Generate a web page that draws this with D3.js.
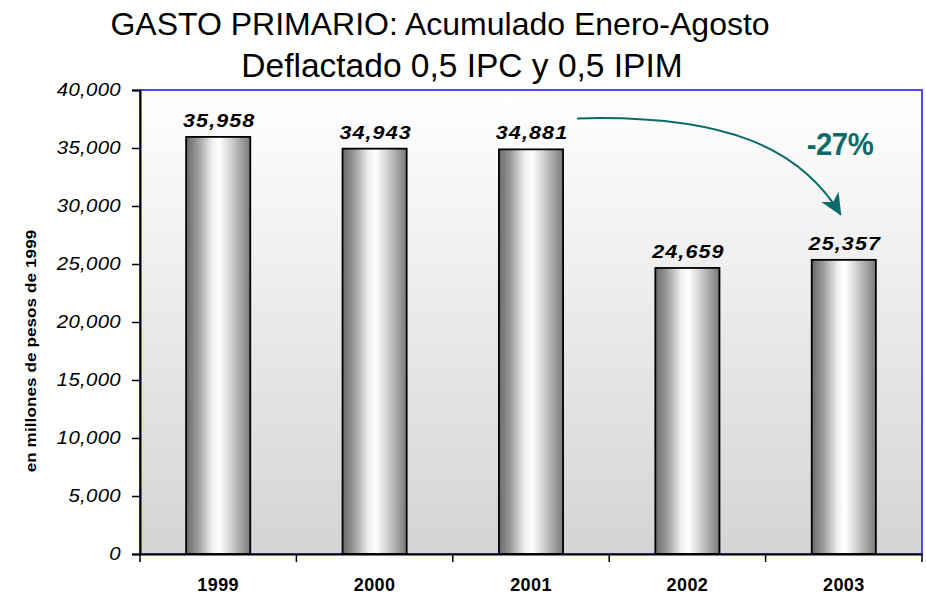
<!DOCTYPE html>
<html>
<head>
<meta charset="utf-8">
<script src="https://cdn.jsdelivr.net/npm/d3@7"></script>
<style>
  html, body { margin: 0; padding: 0; background: #ffffff; }
  svg { display: block; font-family: "Liberation Sans", Arial, sans-serif; }
</style>
</head>
<body>
<svg id="chart" width="926" height="595"></svg>
<script>
const titleLines = ["GASTO PRIMARIO: Acumulado Enero-Agosto", "Deflactado 0,5 IPC y 0,5 IPIM"];
const years = ["1999", "2000", "2001", "2002", "2003"];
const gasto = [35958, 34943, 34881, 24659, 25357];
const yTicks = [0, 5000, 10000, 15000, 20000, 25000, 30000, 35000, 40000];
const yLabel = "en millones de pesos de 1999";
const changeLabel = "-27%";

const svg = d3.select("#chart");
const W = 926, H = 595;
const m = { left: 140, right: 4, top: 90, bottom: 41 };
const pw = W - m.left - m.right, ph = H - m.top - m.bottom;

const defs = svg.append("defs");
const bg = defs.append("linearGradient").attr("id", "bg").attr("x1", 0).attr("y1", 0).attr("x2", 0).attr("y2", 1);
bg.append("stop").attr("offset", "0%").attr("stop-color", "#ffffff");
bg.append("stop").attr("offset", "100%").attr("stop-color", "#d4d4d4");

const bar = defs.append("linearGradient").attr("id", "bar").attr("x1", 0).attr("y1", 0).attr("x2", 1).attr("y2", 0);
[["0%", "#6a6a6a"], ["18%", "#9a9a9a"], ["40%", "#eeeeee"], ["52%", "#ffffff"], ["70%", "#d0d0d0"], ["88%", "#9c9c9c"], ["100%", "#7a7a7a"]]
  .forEach(([o, c]) => bar.append("stop").attr("offset", o).attr("stop-color", c));

const teal = "#0b6b6b";
const mk = defs.append("marker").attr("id", "arrow").attr("viewBox", "0 0 22 20")
  .attr("refX", 21).attr("refY", 10).attr("markerWidth", 22).attr("markerHeight", 20)
  .attr("markerUnits", "userSpaceOnUse").attr("orient", "auto");
mk.append("path").attr("d", "M0,0 L22,10 L0,20 L6,10 Z").attr("fill", teal);

const x = d3.scaleBand().domain(years).range([m.left, m.left + pw]).paddingInner(0.59).paddingOuter(0.295);
const y = d3.scaleLinear().domain([0, 40000]).range([m.top + ph, m.top]);

// plot background and border
svg.append("rect").attr("x", m.left).attr("y", m.top).attr("width", pw).attr("height", ph)
  .attr("fill", "url(#bg)").attr("stroke", "#4a4aff").attr("stroke-width", 2);

// bars
svg.append("g").selectAll("rect").data(years).join("rect")
  .attr("x", d => x(d)).attr("width", x.bandwidth())
  .attr("y", (d, i) => y(gasto[i])).attr("height", (d, i) => y(0) - y(gasto[i]))
  .attr("fill", "url(#bar)").attr("stroke", "#000").attr("stroke-width", 1.8);

// value labels
const fmt = d3.format(",");
svg.append("g").selectAll("text").data(years).join("text")
  .attr("transform", (d, i) => `translate(${x(d) + x.bandwidth() / 2 + 1},${y(gasto[i]) - 10}) scale(1.13,1)`)
  .attr("text-anchor", "middle")
  .attr("font-size", 19).attr("font-weight", "bold").attr("font-style", "italic")
  .attr("letter-spacing", 1)
  .attr("fill", "#000")
  .text((d, i) => fmt(gasto[i]));

// y axis
const yAxis = svg.append("g").attr("transform", `translate(${m.left},0)`)
  .call(d3.axisLeft(y).tickValues(yTicks).tickFormat(d3.format(",")).tickSize(8).tickPadding(9));
yAxis.select(".domain").attr("stroke", "#000").attr("stroke-width", 2);
yAxis.selectAll(".tick line").attr("stroke", "#000").attr("stroke-width", 1.5);
yAxis.selectAll(".tick text").attr("font-size", 18.5).attr("font-style", "italic")
  .attr("x", -19 / 1.1).attr("transform", "scale(1.1,1)")
  .attr("letter-spacing", 0.3).attr("fill", "#000").attr("font-family", "Liberation Sans, Arial, sans-serif");

// x axis
const xAxis = svg.append("g").attr("transform", `translate(0,${m.top + ph})`)
  .call(d3.axisBottom(x).tickSize(0).tickPadding(24));
xAxis.select(".domain").attr("stroke", "#000").attr("stroke-width", 2);
xAxis.selectAll(".tick text").attr("font-size", 18).attr("font-weight", "bold")
  .attr("letter-spacing", 0.4).attr("fill", "#000").attr("font-family", "Liberation Sans, Arial, sans-serif");
// category boundary ticks
const bounds = years.map(d => x(d) - x.step() * x.paddingInner() / 2).concat([m.left + pw]);
bounds[0] = m.left;
xAxis.append("g").selectAll("line").data(bounds).join("line")
  .attr("x1", d => d).attr("x2", d => d).attr("y1", 0).attr("y2", 8)
  .attr("stroke", "#000").attr("stroke-width", 1.5);

// y label
svg.append("text").attr("transform", `translate(36,${351}) rotate(-90) scale(1.1,1)`)
  .attr("text-anchor", "middle").attr("font-size", 15.5).attr("font-weight", "bold")
  .attr("letter-spacing", 0.1).attr("fill", "#000").text(yLabel);

// title
svg.append("text").attr("transform", "translate(440,35)").attr("text-anchor", "middle")
  .attr("font-size", 32).attr("fill", "#000").text(titleLines[0]);
svg.append("text").attr("transform", "translate(462,77)").attr("text-anchor", "middle")
  .attr("font-size", 33.5).attr("fill", "#000").text(titleLines[1]);

// arrow (from 2001 label to 2003 label)
const x0 = x("2001") + x.bandwidth() + 14, y0 = y(gasto[2]) - 31;
const x1 = x("2003") + x.bandwidth() / 2 - 3, y1 = y(gasto[4]) - 45;
svg.append("path")
  .attr("d", `M${x0},${y0} C${x0 + 150},${y0 - 4} ${x1 - 40},${y0 + 30} ${x1},${y1}`)
  .attr("fill", "none").attr("stroke", teal).attr("stroke-width", 2)
  .attr("marker-end", "url(#arrow)");
svg.append("text").attr("transform", "translate(840,155) scale(0.93,1)").attr("text-anchor", "middle")
  .attr("font-size", 31.5).attr("font-weight", "bold").attr("letter-spacing", -0.5)
  .attr("fill", teal).text(changeLabel);
</script>
</body>
</html>
